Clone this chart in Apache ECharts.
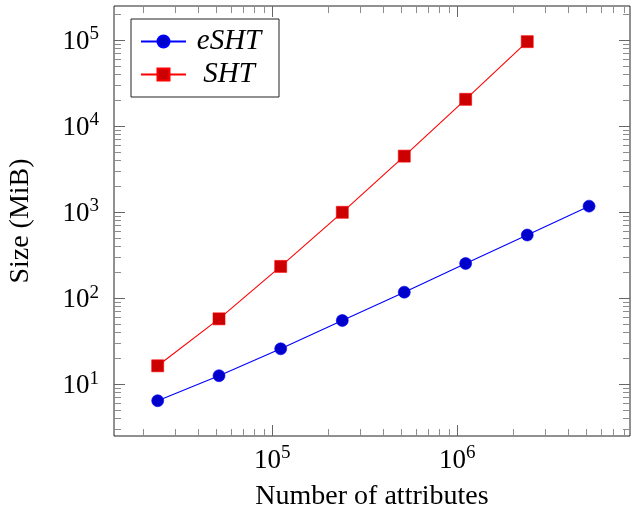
<!DOCTYPE html>
<html>
<head>
<meta charset="utf-8">
<script src="https://cdn.jsdelivr.net/npm/echarts@6/dist/echarts.min.js"></script>
<style>
html,body{margin:0;padding:0;background:#fff;}
#chart{width:631px;height:510px;}
</style>
</head>
<body>
<div id="chart"></div>
<script>
// ---- data ----
const seriesNames = ['eSHT', 'SHT'];
const xValues = [24000, 51500, 111000, 239000, 517000, 1110000, 2390000, 5160000];
const eshtValues = [6.4, 12.5, 25.7, 54.8, 117, 252, 540, 1170];
const shtValues = [16.3, 57.3, 233, 992, 4460, 20400, 95500];
const xMajorTicks = [1e5, 1e6];
const yMajorTicks = [10, 100, 1000, 10000, 100000];
const xRange = [13930, 8.59e6];
const yRange = [2.49, 2.48e5];

function minorTicks(range) {
  const out = [];
  for (let e = Math.floor(Math.log10(range[0])); e <= Math.ceil(Math.log10(range[1])); e++) {
    for (let m = 2; m <= 9; m++) {
      const v = m * Math.pow(10, e);
      if (v > range[0] && v < range[1]) out.push(v);
    }
  }
  return out;
}
const xMinor = minorTicks(xRange);
const yMinor = minorTicks(yRange);

const FONT = '"Liberation Serif", "DejaVu Serif", serif';
const richLabel = {
  b: { fontFamily: FONT, fontSize: 27, color: '#000', verticalAlign: 'bottom', lineHeight: 30 },
  s: { fontFamily: FONT, fontSize: 19, color: '#000', verticalAlign: 'top', lineHeight: 19 }
};
function powLabel(v) {
  return '{b|10}{s|' + Math.round(Math.log10(v)) + '}';
}

function makeAxis(dim, pos, range, ticks, len, color, labels) {
  const a = {
    type: 'log',
    logBase: 10,
    position: pos,
    min: range[0],
    max: range[1],
    axisLine: { show: false },
    axisTick: { show: true, inside: true, length: len, customValues: ticks, lineStyle: { color: color, width: 1 } },
    axisLabel: { show: false },
    splitLine: { show: false },
    minorTick: { show: false },
    minorSplitLine: { show: false }
  };
  if (labels) {
    a.axisLabel = {
      show: true,
      customValues: ticks,
      formatter: powLabel,
      rich: richLabel,
      margin: dim === 'x' ? 8 : 15
    };
  }
  return a;
}

const xAxes = [
  makeAxis('x', 'bottom', xRange, xMajorTicks, 11, '#666', true),
  makeAxis('x', 'bottom', xRange, xMinor, 7, '#8c8c8c', false),
  makeAxis('x', 'top', xRange, xMajorTicks, 11, '#666', false),
  makeAxis('x', 'top', xRange, xMinor, 7, '#8c8c8c', false)
];
xAxes[0].name = 'Number of attributes';
xAxes[0].nameLocation = 'middle';
xAxes[0].nameGap = 47;
xAxes[0].nameTextStyle = { fontFamily: FONT, fontSize: 28, color: '#000' };

const yAxes = [
  makeAxis('y', 'left', yRange, yMajorTicks, 11, '#666', true),
  makeAxis('y', 'left', yRange, yMinor, 7, '#8c8c8c', false),
  makeAxis('y', 'right', yRange, yMajorTicks, 11, '#666', false),
  makeAxis('y', 'right', yRange, yMinor, 7, '#8c8c8c', false)
];
yAxes[0].name = 'Size (MiB)';
yAxes[0].nameLocation = 'middle';
yAxes[0].nameGap = 79;
yAxes[0].nameTextStyle = { fontFamily: FONT, fontSize: 28, color: '#000' };

const chart = echarts.init(document.getElementById('chart'), null, { renderer: 'canvas' });
chart.setOption({
  animation: false,
  backgroundColor: '#fff',
  grid: { left: 114, right: 1, top: 6, bottom: 74, containLabel: false, outerBoundsMode: 'none', show: true, borderColor: '#222', borderWidth: 1, backgroundColor: 'transparent' },
  legend: {
    orient: 'vertical',
    left: 131,
    top: 19,
    padding: [8, 12, 8, 9],
    itemGap: 4,
    itemWidth: 45,
    itemHeight: 15,
    itemTextGap: 5,
    borderColor: '#222',
    borderWidth: 1,
    backgroundColor: '#fff',
    data: seriesNames,
    formatter: function (n) { return '{n|' + n + '}'; },
    textStyle: {
      rich: {
        n: { fontFamily: FONT, fontStyle: 'italic', fontSize: 29, lineHeight: 28, width: 76, align: 'center', color: '#000' }
      }
    }
  },
  xAxis: xAxes,
  yAxis: yAxes,
  series: [
    {
      name: seriesNames[0],
      type: 'line',
      xAxisIndex: 0,
      yAxisIndex: 0,
      data: xValues.map((x, i) => [x, eshtValues[i]]),
      symbol: 'circle',
      symbolSize: 12,
      lineStyle: { color: '#0000ff', width: 1.1 },
      itemStyle: { color: '#0000cc', borderColor: '#0000ff', borderWidth: 0.6 },
      z: 3
    },
    {
      name: seriesNames[1],
      type: 'line',
      xAxisIndex: 0,
      yAxisIndex: 0,
      data: shtValues.map((y, i) => [xValues[i], y]),
      symbol: 'rect',
      symbolSize: 12,
      lineStyle: { color: '#ff0000', width: 1.1 },
      itemStyle: { color: '#cc0000', borderColor: '#ff0000', borderWidth: 0.6 },
      z: 3
    }
  ]
});
</script>
</body>
</html>
